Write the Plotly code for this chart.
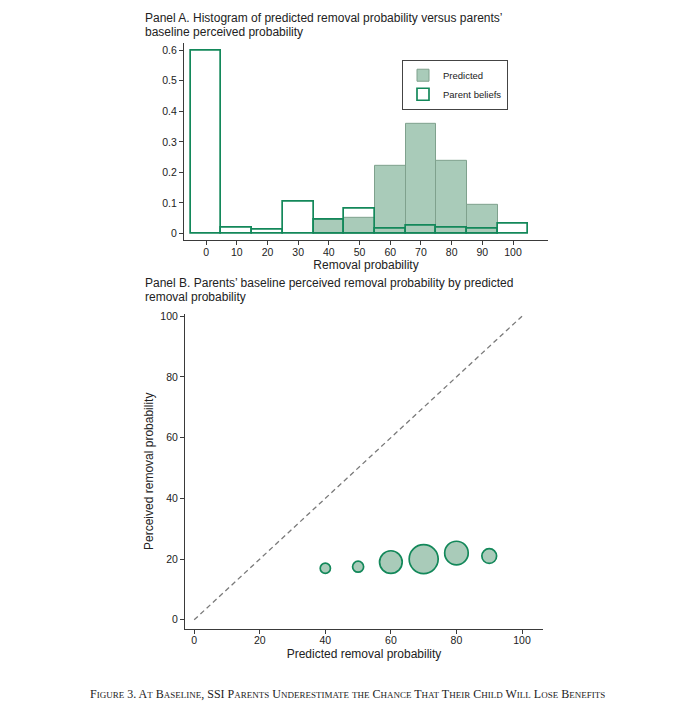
import plotly.graph_objects as go

# ---------------- data ----------------
bin_centers = [0, 10, 20, 30, 40, 50, 60, 70, 80, 90, 100]
predicted_share = [None, None, None, None, 0.045, 0.052, 0.220, 0.359, 0.237, 0.093, None]
parent_share = [0.598, 0.018, 0.013, 0.102, 0.045, 0.081, 0.016, 0.026, 0.020, 0.016, 0.030]

bubble_x = [40, 50, 60, 70, 80, 90]
bubble_y = [17.0, 17.5, 19.0, 20.0, 22.0, 21.0]
bubble_weight = [0.045, 0.052, 0.220, 0.359, 0.237, 0.093]

diag_x = [0, 100]
diag_y = [0, 100]

hist_xticks = [0, 10, 20, 30, 40, 50, 60, 70, 80, 90, 100]
hist_yticks = [0, 0.1, 0.2, 0.3, 0.4, 0.5, 0.6]
hist_yticklabels = ["0", "0.1", "0.2", "0.3", "0.4", "0.5", "0.6"]
scat_ticks = [0, 20, 40, 60, 80, 100]

title_a_lines = ["Panel A. Histogram of predicted removal probability versus parents’",
                 "baseline perceived probability"]
title_b_lines = ["Panel B. Parents’ baseline perceived removal probability by predicted",
                 "removal probability"]
caption = "Figure 3. At Baseline, SSI Parents Underestimate the Chance That Their Child Will Lose Benefits"

# ---------------- styles ----------------
OFF = 8  # default page body margin
W, H = 699 - OFF, 710 - OFF
SANS = "Liberation Sans, Arial, sans-serif"
SERIF = "Liberation Serif, Times New Roman, serif"
DARK_GREEN = "#13885a"
FILL_GREEN = "#a9cbb9"
PRED_LINE = "#7fa18d"
AX = "#3a3a3a"


def px_x(p):
    return (p - OFF) / W


def px_y(p):
    return 1 - (p - OFF) / H


def small_caps(text, big=12, small=9):
    out = []
    run = ""
    run_small = None
    for ch in text:
        is_small = ch.islower()
        if run_small is None or is_small == run_small:
            run += ch
            run_small = is_small
        else:
            out.append((run, run_small))
            run = ch
            run_small = is_small
    if run:
        out.append((run, run_small))
    html = ""
    for seg, sm in out:
        if sm:
            html += f"<span style='font-size:{small}px'>{seg.upper()}</span>"
        else:
            html += f"<span style='font-size:{big}px'>{seg}</span>"
    return html


fig = go.Figure()

fig.add_trace(go.Bar(
    x=bin_centers, y=predicted_share, width=10,
    name="Predicted",
    marker=dict(color=FILL_GREEN, line=dict(color=PRED_LINE, width=1)),
    xaxis="x", yaxis="y",
))
fig.add_trace(go.Bar(
    x=bin_centers, y=parent_share, width=10,
    name="Parent beliefs",
    marker=dict(color="rgba(255,255,255,0)", line=dict(color=DARK_GREEN, width=1.7)),
    xaxis="x", yaxis="y",
))

fig.add_trace(go.Scatter(
    x=diag_x, y=diag_y, mode="lines",
    line=dict(color="#7a7a7a", width=1.3, dash="5px,3.5px"),
    showlegend=False, xaxis="x2", yaxis="y2", hoverinfo="skip",
))
max_diam = 29
fig.add_trace(go.Scatter(
    x=bubble_x, y=bubble_y, mode="markers",
    marker=dict(
        size=bubble_weight, sizemode="area",
        sizeref=2 * max(bubble_weight) / (max_diam ** 2),
        color=FILL_GREEN, line=dict(color=DARK_GREEN, width=1.7), opacity=1,
    ),
    showlegend=False, xaxis="x2", yaxis="y2",
))

axis_common = dict(
    showgrid=False, zeroline=False, showline=True, linecolor=AX, linewidth=1,
    ticks="outside", ticklen=4, tickcolor=AX, tickwidth=1,
    tickfont=dict(family=SANS, size=10.5, color="#222"),
)

title_font = dict(family=SANS, size=12, color="#222")
annotations = []
for text, yc in zip(title_a_lines, [14.5, 28.3]):
    annotations.append(dict(text=text, x=px_x(143), y=px_y(yc), xref="paper", yref="paper",
                            xanchor="left", yanchor="middle", align="left", showarrow=False,
                            font=title_font))
for text, yc in zip(title_b_lines, [280.5, 294.3]):
    annotations.append(dict(text=text, x=px_x(143), y=px_y(yc), xref="paper", yref="paper",
                            xanchor="left", yanchor="middle", align="left", showarrow=False,
                            font=title_font))
annotations.append(dict(text=small_caps(caption), x=px_x(347), y=px_y(694), xref="paper", yref="paper",
                        xanchor="center", yanchor="middle", showarrow=False,
                        font=dict(family=SERIF, size=12, color="#222")))

fig.update_layout(
    width=W, height=H,
    margin=dict(l=0, r=0, t=0, b=0),
    paper_bgcolor="white", plot_bgcolor="white",
    barmode="overlay", bargap=0,
    font=dict(family=SANS, color="#222"),
    xaxis=dict(
        domain=[px_x(184), px_x(548)], range=[-7.2, 111.4],
        tickvals=hist_xticks, anchor="y", ticklabelstandoff=-2,
        title=dict(text="Removal probability", font=dict(family=SANS, size=12, color="#222"), standoff=0),
        **axis_common,
    ),
    yaxis=dict(
        domain=[px_y(237.5), px_y(39)], range=[-0.022, 0.624],
        tickvals=hist_yticks, ticktext=hist_yticklabels, anchor="x",
        **axis_common,
    ),
    xaxis2=dict(
        domain=[px_x(185), px_x(543)], range=[-2.8, 106.4],
        tickvals=scat_ticks, anchor="y2", ticklabelstandoff=-2,
        title=dict(text="Predicted removal probability", font=dict(family=SANS, size=12, color="#222"), standoff=4),
        **axis_common,
    ),
    yaxis2=dict(
        domain=[px_y(628.3), px_y(311.5)], range=[-2.95, 100.8],
        tickvals=scat_ticks, anchor="x2",
        title=dict(text="Perceived removal probability", font=dict(family=SANS, size=12, color="#222"), standoff=4),
        **axis_common,
    ),
    legend=dict(
        x=px_x(402), y=px_y(56), xanchor="left", yanchor="top",
        bordercolor="#444", borderwidth=1, bgcolor="white",
        font=dict(family=SANS, size=9.5, color="#222"),
        tracegroupgap=0, itemwidth=30,
    ),
    annotations=annotations,
)

fig.write_html("out.html")
